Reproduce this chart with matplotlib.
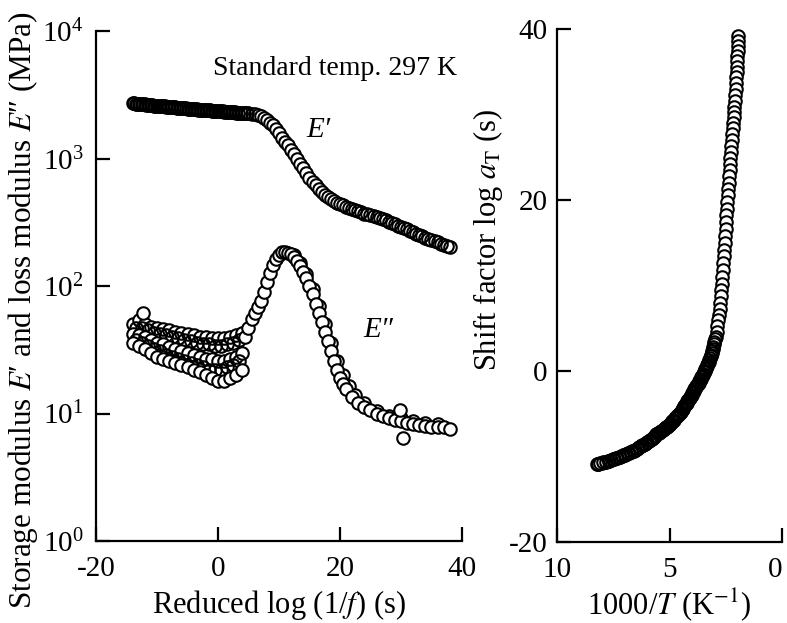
import matplotlib
matplotlib.use('Agg')
import matplotlib.pyplot as plt

plt.rcParams['font.family'] = ['Liberation Serif', 'DejaVu Serif']
plt.rcParams['mathtext.fontset'] = 'stix'
plt.rcParams['axes.unicode_minus'] = False

# storage modulus E' (MPa) vs reduced log(1/f)
ep_x = [-14.0, -13.5, -13.0, -12.5, -12.0, -11.5, -11.0, -10.5, -10.0, -9.5,
        -9.0, -8.5, -8.0, -7.5, -7.0, -6.5, -6.0, -5.5, -5.0, -4.5,
        -4.0, -3.5, -3.0, -2.5, -2.0, -1.5, -1.0, -0.5, 0.0, 0.5,
        1.0, 1.5, 2.0, 2.5, 3.0, 3.5, 4.0, 4.5, 5.0, 5.5,
        6.0, 6.5, 7.0, 7.5, 8.0, 8.5, 9.0, 9.5, 10.0, 10.5,
        11.0, 11.5, 12.0, 12.5, 13.0, 13.5, 14.0, 14.5, 15.0, 15.5,
        16.0, 16.5, 17.0, 17.5, 18.0, 18.5, 19.0, 19.5, 20.0, 21.0,
        22.0, 23.0, 24.0, 25.0, 26.0, 27.0, 28.0, 29.0, 30.0, 31.0,
        32.0, 33.0, 34.0, 35.0, 36.0, 37.0, 38.0]
ep_val = [2720, 2700, 2690, 2670, 2660, 2640, 2630, 2610, 2600, 2590,
          2570, 2560, 2550, 2530, 2520, 2510, 2490, 2480, 2470, 2460,
          2440, 2430, 2420, 2410, 2400, 2390, 2380, 2370, 2360, 2350,
          2340, 2330, 2320, 2310, 2300, 2290, 2280, 2270, 2260, 2250,
          2230, 2200, 2150, 2080, 2000, 1910, 1820, 1700, 1580, 1460,
          1360, 1270, 1170, 1080, 990, 910, 840, 770, 710, 660,
          620, 580, 550, 520, 500, 480, 465, 450, 440, 420,
          400, 385, 370, 360, 350, 335, 320, 305, 290, 278,
          265, 252, 240, 230, 220, 211, 202]
# second E' run (glassy plateau)
ep_x2 = [-13.75, -13.25, -12.75, -12.25, -11.75, -11.25, -10.75, -10.25, -9.75, -9.25,
         -8.75, -8.25, -7.75, -7.25, -6.75, -6.25, -5.75, -5.25, -4.75, -4.25,
         -3.75, -3.25, -2.75, -2.25, -1.75, -1.25, -0.75, -0.25, 0.25, 0.75,
         1.25, 1.75, 2.25, 2.75, 3.25, 3.75, 4.25, 4.75]
ep_val2 = [2710, 2695, 2680, 2665, 2650, 2635, 2620, 2605, 2595, 2580,
           2565, 2555, 2540, 2525, 2515, 2500, 2485, 2475, 2465, 2450,
           2435, 2425, 2415, 2405, 2395, 2385, 2375, 2365, 2355, 2345,
           2335, 2325, 2315, 2305, 2295, 2285, 2275, 2265]
# third E' run (rubbery side)
ep_x3 = [20.5, 21.5, 22.5, 23.5, 24.5, 25.5, 26.5, 27.5, 28.5, 29.5,
         30.5, 31.5, 32.5, 33.5, 34.5, 35.5, 36.5, 37.5]
ep_val3 = [430, 410, 392, 378, 365, 355, 342, 328, 312, 298,
           284, 271, 258, 246, 235, 225, 215, 206]

# loss modulus E'' - low-frequency scatter (overlapping runs)
epp_xa = [-14, -13, -12, -11, -10, -9, -8, -7, -6, -5,
          -4, -3, -2, -1, 0, 1, 2, 3, 4]
epp_xb = [-13.5, -12.5, -11.5, -10.5, -9.5, -8.5, -7.5, -6.5, -5.5, -4.5,
          -3.5, -2.5, -1.5, -0.5, 0.5, 1.5, 2.5, 3.5]
epp_run1 = [50, 54, 50, 48, 47, 46, 45, 44, 43, 42,
            41, 40, 40, 39, 39, 39, 40, 41, 43]
epp_run2 = [47, 47, 45, 43, 42, 41, 40, 39, 38, 37,
            36, 35, 35, 34, 34, 35, 36, 38]
epp_run3 = [42, 41, 40, 38, 36, 35, 33, 32, 31, 30,
            29, 28, 27, 27, 26, 26, 27, 28, 30]
epp_run4 = [38, 36, 34, 32, 31, 29, 28, 27, 26, 25,
            24, 23, 22, 22, 22, 23, 24, 26]
epp_run5 = [36, 34, 32, 30, 28, 27, 26, 25, 24, 23,
            22, 21, 20, 19, 18, 18, 19, 20, 22]
epp_out_x = [-12.3, 29.8, 30.3]
epp_out_val = [62, 10.6, 6.4]

# loss modulus E'' - peak and high side
epp_x = [4.5, 5.0, 5.5, 6.0, 6.5, 7.0, 7.5, 8.0, 8.5, 9.0,
         9.5, 10.0, 10.5, 11.0, 11.5, 12.0, 12.5, 13.0, 13.5, 14.0,
         14.5, 15.0, 15.5, 16.0, 16.5, 17.0, 17.5, 18.0, 18.5, 19.0,
         19.5, 20.0, 20.5, 21.0, 22.0, 23.0, 24.0, 25.0, 26.0, 27.0,
         28.0, 29.0, 30.0, 31.0, 32.0, 33.0, 34.0, 35.0, 36.0, 37.0, 38.0]
epp_val = [40, 47, 55, 62, 68, 77, 90, 107, 127, 146,
           163, 176, 184, 186, 183, 178, 170, 158, 145, 130,
           115, 100, 86, 73, 62, 52, 44, 37, 31, 26,
           22, 19, 17, 15.5, 13.5, 12, 11.3, 10.6, 10, 9.5,
           9.2, 8.9, 8.7, 8.5, 8.3, 8.1, 8.0, 7.9, 7.8, 7.8, 7.6]
epp2_x = [12.5, 13.5, 14.5, 15.5, 16.5, 17.5, 18.5, 19.5, 20.5, 21.5,
          22.5, 24.0, 26.0, 28.0, 30.0, 32.0, 34.0, 36.0]
epp2_val = [175, 152, 124, 95, 70, 50, 36, 26, 20, 16.5,
            14, 12, 10.5, 9.6, 9.2, 8.8, 8.5, 8.3]

# shift factor log aT vs 1000/T
inv_t = [1.94, 1.95, 1.96, 1.97, 1.98, 1.99, 2.00, 2.02, 2.03, 2.05,
         2.06, 2.08, 2.10, 2.12, 2.14, 2.15, 2.17, 2.19, 2.21, 2.23,
         2.25, 2.27, 2.29, 2.31, 2.33, 2.35, 2.37, 2.39, 2.41, 2.43,
         2.45, 2.47, 2.49, 2.51, 2.53, 2.55, 2.57, 2.59, 2.61, 2.63,
         2.65, 2.67, 2.69, 2.71, 2.74, 2.77, 2.80, 2.83, 2.87, 2.91,
         2.95, 3.00, 3.05, 3.10, 3.15, 3.20, 3.26, 3.32, 3.38, 3.44,
         3.50, 3.56, 3.62, 3.68, 3.74, 3.80, 3.86, 3.92, 3.98, 4.04,
         4.10, 4.17, 4.24, 4.31, 4.38, 4.46, 4.54, 4.62, 4.70, 4.79,
         4.88, 4.97, 5.06, 5.16, 5.26, 5.36, 5.47, 5.58, 5.69, 5.80,
         5.92, 6.04, 6.16, 6.28, 6.40, 6.53, 6.66, 6.79, 6.92, 7.05,
         7.18, 7.32, 7.46, 7.60, 7.74, 7.88, 8.02, 8.16, 8.24]
log_at = [39.2, 38.6, 38.0, 37.4, 36.8, 36.2, 35.6, 35.0, 34.4, 33.7,
          33.0, 32.3, 31.6, 30.9, 30.3, 29.7, 29.0, 28.4, 27.7, 27.0,
          26.3, 25.6, 24.9, 24.2, 23.5, 22.8, 22.0, 21.3, 20.6, 19.8,
          19.0, 18.2, 17.4, 16.6, 15.8, 15.0, 14.2, 13.4, 12.6, 11.8,
          11.0, 10.2, 9.5, 8.8, 8.0, 7.3, 6.6, 6.0, 5.3, 4.6,
          4.0, 3.4, 2.8, 2.3, 1.9, 1.5, 1.1, 0.7, 0.4, 0.0,
          -0.3, -0.6, -0.9, -1.2, -1.5, -1.8, -2.0, -2.3, -2.6, -2.9,
          -3.1, -3.4, -3.7, -4.0, -4.3, -4.6, -4.9, -5.2, -5.4, -5.7,
          -5.9, -6.2, -6.4, -6.6, -6.8, -7.0, -7.2, -7.4, -7.7, -7.9,
          -8.2, -8.4, -8.6, -8.8, -9.0, -9.2, -9.4, -9.55, -9.7, -9.85,
          -10.0, -10.15, -10.3, -10.4, -10.55, -10.65, -10.75, -10.85, -10.9]
# second run of shift factors (glassy range)
inv_t2 = [2.975, 3.025, 3.075, 3.125, 3.175, 3.23, 3.29, 3.35, 3.41, 3.47,
          3.53, 3.59, 3.65, 3.71, 3.77, 3.83, 3.89, 3.95, 4.01, 4.07,
          4.135, 4.205, 4.275, 4.345, 4.42, 4.50, 4.58, 4.66, 4.745, 4.835,
          4.925, 5.015, 5.11, 5.21, 5.31, 5.415, 5.525, 5.635, 5.745, 5.86,
          5.98, 6.10, 6.22, 6.34, 6.465, 6.595, 6.725, 6.855, 6.985, 7.115,
          7.25, 7.39, 7.53, 7.67, 7.81, 7.95, 8.09, 8.20]
log_at2 = [3.7, 3.1, 2.55, 2.1, 1.7, 1.3, 0.9, 0.55, 0.2, -0.15,
           -0.45, -0.75, -1.05, -1.35, -1.65, -1.9, -2.15, -2.45, -2.75, -3.0,
           -3.25, -3.55, -3.85, -4.15, -4.45, -4.75, -5.05, -5.3, -5.55, -5.8,
           -6.05, -6.3, -6.5, -6.7, -6.9, -7.1, -7.3, -7.55, -7.8, -8.05,
           -8.3, -8.5, -8.7, -8.9, -9.1, -9.3, -9.475, -9.625, -9.775, -9.925,
           -10.075, -10.225, -10.35, -10.475, -10.6, -10.7, -10.8, -10.875]

fig = plt.figure(figsize=(7.87, 6.23), dpi=100)
ax1 = fig.add_axes([0.122, 0.1316, 0.465, 0.8184])
ax2 = fig.add_axes([0.7078, 0.130, 0.2858, 0.8235])

mk = dict(linestyle='none', marker='o', markersize=9, markerfacecolor='white',
          markeredgecolor='black', markeredgewidth=1.5)
# open rings without fill, for the densest runs
mk_ring = dict(mk, markerfacecolor='none')

ax1.plot(ep_x, ep_val, **mk)
ax1.plot(ep_x2, ep_val2, **mk_ring)
ax1.plot(ep_x3, ep_val3, **mk_ring)
ax1.plot(epp_xa, epp_run1, **mk)
ax1.plot(epp_xb, epp_run2, **mk_ring)
ax1.plot(epp_xa, epp_run3, **mk)
ax1.plot(epp_xb, epp_run4, **mk_ring)
ax1.plot(epp_xa, epp_run5, **mk)
ax1.plot(epp2_x, epp2_val, **mk)
ax1.plot(epp_x, epp_val, **mk)
ax1.plot(epp_out_x, epp_out_val, **mk)

ax1.set_yscale('log')
ax1.set_xlim(-20, 40)
ax1.set_ylim(1, 1e4)
ax1.set_xticks([-20, 0, 20, 40])
ax1.minorticks_off()
ax1.set_xlabel('Reduced log (1/$f$) (s)', fontsize=22, labelpad=4)
ax1.set_ylabel('Storage modulus $E$′ and loss modulus $E$″ (MPa)', fontsize=22.5)
ax1.yaxis.set_label_coords(-0.153, 0.453)
ax1.text(-0.8, 10**3.71, 'Standard temp. 297 K', fontsize=20, ha='left', va='center')
ax1.text(16.4, 1675, 'E′', fontsize=21, style='italic', ha='center', va='center')
ax1.text(26.2, 45, 'E″', fontsize=21, style='italic', ha='center', va='center')

ax2.plot(inv_t, log_at, **mk)
ax2.plot(inv_t2, log_at2, **mk_ring)
ax2.set_xlim(10, 0)
ax2.set_ylim(-20, 40)
ax2.set_xticks([10, 5, 0])
ax2.set_yticks([-20, 0, 20, 40])
ax2.set_xlabel('1000/$T$ (K$^{-1}$)', fontsize=22, labelpad=2)
ax2.set_ylabel('Shift factor log $a_\\mathrm{T}$ (s)', fontsize=22)
ax2.yaxis.set_label_coords(-0.231, 0.589)

for ax in (ax1, ax2):
    ax.spines['top'].set_visible(False)
    ax.spines['right'].set_visible(False)
    ax.spines['left'].set_linewidth(1.6)
    ax.spines['bottom'].set_linewidth(1.6)
    ax.tick_params(direction='in', length=10, width=1.6, labelsize=21)
    ax.tick_params(axis='x', pad=11)
ax1.tick_params(axis='y', pad=9)
ax2.tick_params(axis='y', pad=7)
ax2.get_xticklabels()[-1].set_horizontalalignment('right')

plt.savefig('out.png', dpi=100)
